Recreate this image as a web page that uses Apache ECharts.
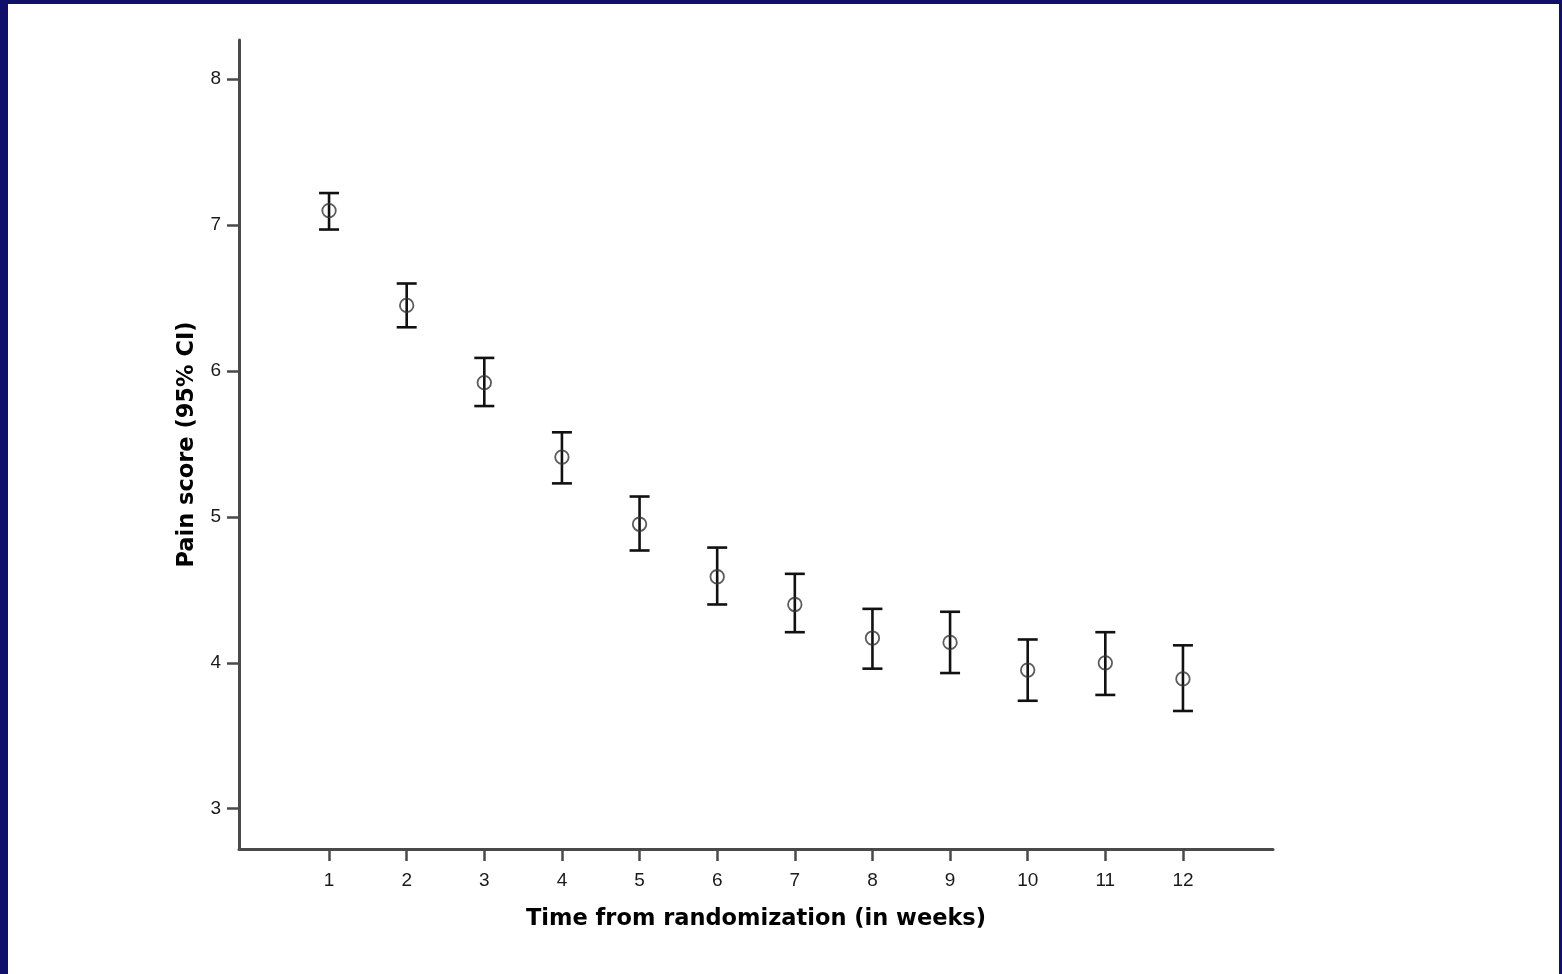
<!DOCTYPE html>
<html>
<head>
<meta charset="utf-8">
<title>Pain score over time</title>
<script src="https://cdn.jsdelivr.net/npm/echarts@6/dist/echarts.min.js"></script>
<style>
  html, body { margin: 0; padding: 0; background: #10106b; width: 1562px; height: 974px; overflow: hidden; }
  #chart { position: absolute; left: 8px; top: 4px; width: 1551px; height: 970px; background: #ffffff; }
</style>
</head>
<body>
<div id="chart"></div>
<script>
// Weeks since randomization
const weeks = [1, 2, 3, 4, 5, 6, 7, 8, 9, 10, 11, 12];
// Mean pain score per week
const meanScore = [7.10, 6.45, 5.92, 5.41, 4.95, 4.59, 4.40, 4.17, 4.14, 3.95, 4.00, 3.89];
// Upper and lower bounds of the 95% confidence interval
const ciUpper = [7.22, 6.60, 6.09, 5.58, 5.14, 4.79, 4.61, 4.37, 4.35, 4.16, 4.21, 4.12];
const ciLower = [6.97, 6.30, 5.76, 5.23, 4.77, 4.40, 4.21, 3.96, 3.93, 3.74, 3.78, 3.67];
// Axis tick values
const xTicks = [1, 2, 3, 4, 5, 6, 7, 8, 9, 10, 11, 12];
const yTicks = [3, 4, 5, 6, 7, 8];

const meanData = weeks.map((w, i) => [w, meanScore[i]]);
const ciData = weeks.map((w, i) => [w, ciLower[i], ciUpper[i]]);

const axisColor = '#4a4a4a';
const chart = echarts.init(document.getElementById('chart'), null, { renderer: 'canvas' });

chart.setOption({
  animation: false,
  backgroundColor: '#ffffff',
  grid: { left: 231, top: 36, width: 1034, height: 809, containLabel: false },
  xAxis: {
    type: 'value',
    min: -0.16,
    max: 13.16,
    name: 'Time from randomization (in weeks)',
    nameLocation: 'middle',
    nameGap: 59,
    nameTextStyle: { fontFamily: 'DejaVu Sans', fontWeight: 'bold', fontSize: 22.5, color: '#000' },
    axisLine: { show: true, onZero: false, lineStyle: { color: axisColor, width: 3 } },
    axisTick: { show: true, inside: false, length: 12, lineStyle: { color: axisColor, width: 2.5 }, customValues: xTicks },
    axisLabel: { customValues: xTicks, margin: 22, fontFamily: 'Liberation Sans', fontSize: 19, color: '#1a1a1a' },
    splitLine: { show: false }
  },
  yAxis: {
    type: 'value',
    min: 2.724,
    max: 8.269,
    name: 'Pain score (95% CI)',
    nameLocation: 'middle',
    nameGap: 40,
    nameRotate: 90,
    nameTextStyle: { fontFamily: 'DejaVu Sans', fontWeight: 'bold', fontSize: 22.5, color: '#000' },
    axisLine: { show: true, onZero: false, lineStyle: { color: axisColor, width: 3 } },
    axisTick: { show: true, inside: false, length: 12, lineStyle: { color: axisColor, width: 2.5 }, customValues: yTicks },
    axisLabel: { customValues: yTicks, margin: 18, fontFamily: 'Liberation Sans', fontSize: 19, color: '#1a1a1a' },
    splitLine: { show: false }
  },
  series: [
    {
      // 95% CI whiskers with end caps
      type: 'custom',
      data: ciData,
      renderItem: function (params, api) {
        const x = api.value(0);
        const lo = api.coord([x, api.value(1)]);
        const hi = api.coord([x, api.value(2)]);
        const half = 10;
        const style = { stroke: '#111', lineWidth: 2.6 };
        return {
          type: 'group',
          children: [
            { type: 'line', shape: { x1: lo[0], y1: lo[1], x2: hi[0], y2: hi[1] }, style: style },
            { type: 'line', shape: { x1: hi[0] - half, y1: hi[1], x2: hi[0] + half, y2: hi[1] }, style: style },
            { type: 'line', shape: { x1: lo[0] - half, y1: lo[1], x2: lo[0] + half, y2: lo[1] }, style: style }
          ]
        };
      },
      z: 2
    },
    {
      // Mean markers
      type: 'scatter',
      data: meanData,
      symbol: 'circle',
      symbolSize: 13.5,
      itemStyle: { color: 'rgba(0,0,0,0)', borderColor: '#333', borderWidth: 1.8 },
      z: 3
    }
  ]
});
</script>
</body>
</html>
